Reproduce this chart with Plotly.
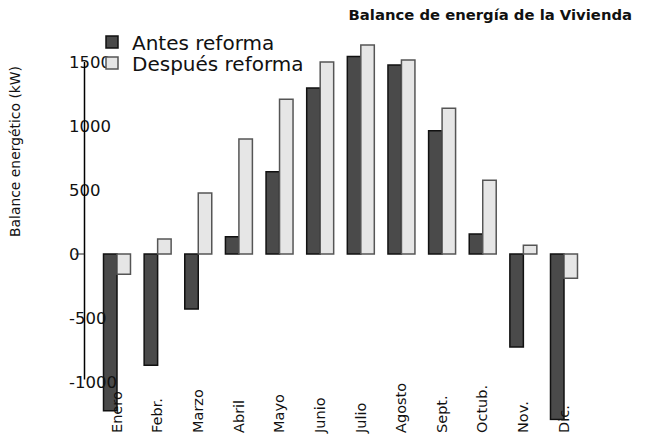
import plotly.graph_objects as go

months = ["Enero", "Febr.", "Marzo", "Abril", "Mayo", "Junio",
          "Julio", "Agosto", "Sept.", "Octub.", "Nov.", "Dic."]
antes = [-1225, -870, -430, 135, 643, 1297, 1542, 1477, 963, 156, -727, -1292]
despues = [-158, 117, 476, 898, 1209, 1500, 1633, 1516, 1138, 576, 68, -190]

tick_vals = [-1000, -500, 0, 500, 1000, 1500]
tick_text = ["-1000", "-500", "0", "500", "1000", "1500"]

# page body has an 8px margin, so the figure is a bit smaller than the window
W, H = 637, 428
FONT = "DejaVu Sans"
STEP = 40.636  # px per month
X0 = -109 / STEP  # left edge of the x range

fig = go.Figure()
fig.add_trace(go.Bar(
    x=months, y=antes, name="Antes reforma", legend="legend",
    marker=dict(color="#4a4a4a", line=dict(color="#111111", width=1.5)),
))
fig.add_trace(go.Bar(
    x=months, y=despues, name="Después reforma", legend="legend2",
    marker=dict(color="#e6e6e6", line=dict(color="#555555", width=1.5)),
))

# axis line and the little stub at zero
ax_x = 76.5 / W
fig.add_shape(type="line", xref="paper", yref="y", layer="above",
              x0=ax_x, x1=ax_x, y0=-980, y1=1500,
              line=dict(color="#000000", width=1.5))
fig.add_shape(type="line", xref="paper", yref="y", layer="above",
              x0=ax_x - 9 / W, x1=ax_x, y0=0, y1=0,
              line=dict(color="#222222", width=1))

fig.add_annotation(text="Balance energético (kW)", textangle=-90,
                   xref="paper", yref="paper", x=7 / W, y=(H - 144) / H,
                   xanchor="center", yanchor="middle",
                   showarrow=False, font=dict(family=FONT, size=13.9, color="#111"))

leg = dict(xanchor="left", yanchor="middle", bgcolor="rgba(0,0,0,0)",
           font=dict(family=FONT, size=20, color="#111"))

fig.update_layout(
    width=W, height=H,
    margin=dict(l=0, r=0, t=0, b=0),
    paper_bgcolor="white", plot_bgcolor="white",
    barmode="group", bargap=0.336, bargroupgap=0,
    font=dict(family=FONT, color="#111"),
    title=dict(text="<b>Balance de energía de la Vivienda</b>",
               x=624 / W, xanchor="right", y=(H - 7) / H, yanchor="middle",
               font=dict(family=FONT, size=14.8, color="#111")),
    xaxis=dict(range=[X0, X0 + W / STEP],
               side="top", anchor="free", position=3 / H, automargin=False,
               tickangle=-90, ticks="", showline=False, showgrid=False,
               tickfont=dict(family=FONT, size=14.5, color="#111")),
    yaxis=dict(range=[-1300, 1700], domain=[(H - 412.4) / H, (H - 28.4) / H],
               side="right", anchor="free", position=60 / W, automargin=False,
               tickvals=tick_vals, ticktext=tick_text, ticks="",
               showline=False, showgrid=False, zeroline=False,
               tickfont=dict(family=FONT, size=16.5, color="#111")),
    legend=dict(leg, x=84 / W, y=(H - 34) / H),
    legend2=dict(leg, x=84 / W, y=(H - 55) / H),
    showlegend=True,
)

fig.write_html("out.html")
